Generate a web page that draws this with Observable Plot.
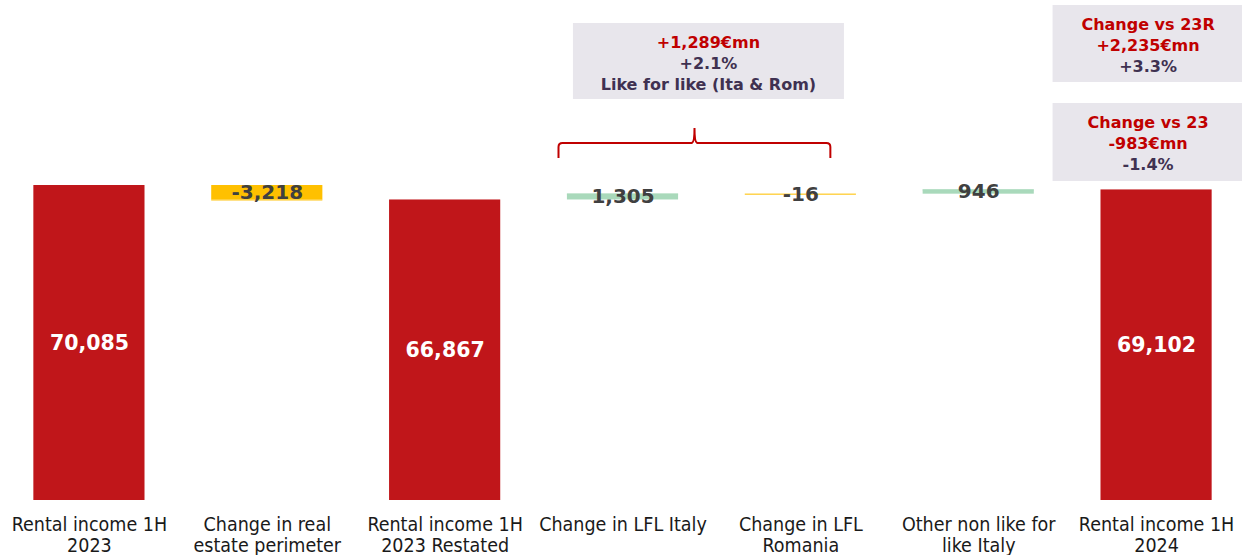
<!DOCTYPE html>
<html>
<head>
<meta charset="utf-8">
<script src="https://cdn.jsdelivr.net/npm/d3@7"></script>
<script src="https://cdn.jsdelivr.net/npm/@observablehq/plot@0.6"></script>
<style>
  html, body { margin: 0; padding: 0; background: #fff; }
  #chart { width: 1242px; height: 555px; }
</style>
</head>
<body>
<div id="chart"></div>
<script>
const categories = [
  "Rental income 1H 2023",
  "Change in real estate perimeter",
  "Rental income 1H 2023 Restated",
  "Change in LFL Italy",
  "Change in LFL Romania",
  "Other non like for like Italy",
  "Rental income 1H 2024"
];
const tickLabels = [
  "Rental income 1H\n2023",
  "Change in real\nestate perimeter",
  "Rental income 1H\n2023 Restated",
  "Change in LFL Italy",
  "Change in LFL\nRomania",
  "Other non like for\nlike Italy",
  "Rental income 1H\n2024"
];
const values = [70085, -3218, 66867, 1305, -16, 946, 69102];
const kinds = ["total", "delta", "total", "delta", "delta", "delta", "total"];

const boxLike = ["+1,289€mn", "+2.1%", "Like for like (Ita & Rom)"];
const box23R = ["Change vs 23R", "+2,235€mn", "+3.3%"];
const box23 = ["Change vs 23", "-983€mn", "-1.4%"];

const RED = "#c0161a";
const YELLOW = "#ffc000";
const GREEN = "#a9d9bb";
const TXTRED = "#c00000";
const TXTPURPLE = "#3f3151";
const BOXFILL = "#e8e6ec";
const NUMFONT = "'DejaVu Sans', Verdana, sans-serif";
const LBLFONT = "'DejaVu Sans Condensed', 'DejaVu Sans', sans-serif";

// build waterfall rows
let running = 0;
const rows = categories.map((cat, i) => {
  const v = values[i];
  let y1, y2;
  if (kinds[i] === "total") { y1 = 0; y2 = v; running = v; }
  else { y1 = running; y2 = running + v; running = y2; }
  const fill = kinds[i] === "total" ? RED : (v < 0 ? YELLOW : GREEN);
  return {cat, v, y1, y2, mid: (y1 + y2) / 2, kind: kinds[i], fill, tick: tickLabels[i]};
});
const fmt = v => v.toLocaleString("en-US");

function annotations(index, scales, values, dims, context) {
  const ns = "http://www.w3.org/2000/svg";
  const g = d3.select(context.document.createElementNS(ns, "g"));
  const x = scales.x, bw = x.bandwidth();
  function box(cx, top, w, h, lines, colors) {
    g.append("rect").attr("x", cx - w / 2).attr("y", top).attr("width", w).attr("height", h).attr("fill", BOXFILL);
    lines.forEach((t, i) => {
      g.append("text").attr("x", cx).attr("y", top + 19 + i * 21).attr("dy", "0.35em")
        .attr("text-anchor", "middle").attr("font-family", NUMFONT).attr("font-weight", "bold")
        .attr("font-size", 16).attr("fill", colors[i]).text(t);
    });
  }
  const c3 = x(categories[3]) + bw / 2, c4 = x(categories[4]) + bw / 2, c6 = x(categories[6]) + bw / 2;
  const mid34 = (c3 + c4) / 2;
  box(mid34 - 3, 23, 271, 76, boxLike, [TXTRED, TXTPURPLE, TXTPURPLE]);
  box(c6 - 8, 5, 191, 77, box23R, [TXTRED, TXTRED, TXTPURPLE]);
  box(c6 - 8, 103, 191, 78, box23, [TXTRED, TXTRED, TXTPURPLE]);
  // brace
  const L = c3 - 64, R = c4 + 30, M = L + 136, yb = 143;
  const p = `M${L},158 L${L},${yb + 4} Q${L},${yb} ${L + 4},${yb} L${M - 3},${yb} Q${M},${yb} ${M},${yb - 15}`
    + ` Q${M},${yb} ${M + 3},${yb} L${R - 4},${yb} Q${R},${yb} ${R},${yb + 4} L${R},158`;
  g.append("path").attr("d", p).attr("fill", "none").attr("stroke", TXTRED).attr("stroke-width", 2);
  return g.node();
}

const chart = Plot.plot({
  width: 1242,
  height: 555,
  marginTop: 0, marginBottom: 55, marginLeft: 0, marginRight: 0,
  style: {background: "#fff", overflow: "visible"},
  x: {domain: categories, range: [0, 1245], round: false, paddingInner: 0.375, paddingOuter: 0.1875, axis: null},
  y: {domain: [0, 111250], axis: null},
  marks: [
    Plot.barY(rows, {x: "cat", y1: "y1", y2: "y2", fill: "fill"}),
    Plot.tickY(rows.filter(d => d.kind === "delta"), {x: "cat", y: "y2", stroke: "fill", strokeWidth: 1}),
    Plot.text(rows, {
      x: "cat", y: "mid", text: d => fmt(d.v),
      fill: d => d.kind === "total" ? "#fff" : "#404040",
      fontSize: d => d.kind === "total" ? 20.5 : 20,
      fontWeight: "bold", fontFamily: NUMFONT
    }),
    Plot.text(rows, {
      x: "cat", y: 0, text: "tick", lineAnchor: "top", dy: 15,
      fontSize: 19.5, lineHeight: 1.1, fontFamily: LBLFONT, fill: "#1a1a1a"
    }),
    annotations
  ]
});
document.getElementById("chart").appendChild(chart);
</script>
</body>
</html>
